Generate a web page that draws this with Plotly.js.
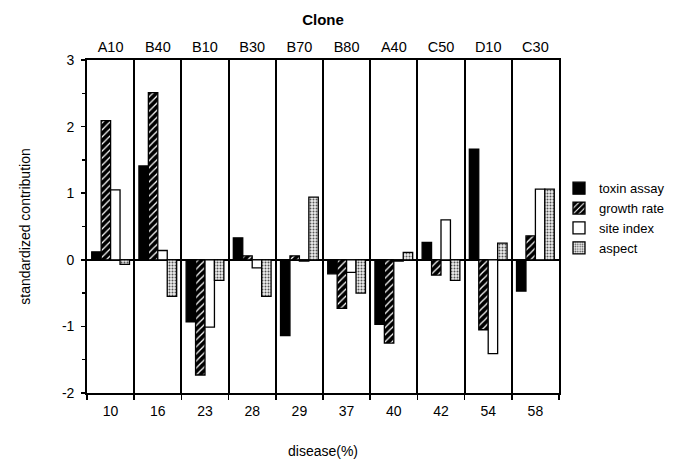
<!DOCTYPE html>
<html>
<head>
<meta charset="utf-8">
<script src="https://cdn.plot.ly/plotly-3.0.1.min.js"></script>
<style>html,body{margin:0;padding:0;background:#fff;}#chart{width:678px;height:459px;}</style>
</head>
<body>
<div id="chart"></div>
<script>
const disease = ["10", "16", "23", "28", "29", "37", "40", "42", "54", "58"];
const clones = ["A10", "B40", "B10", "B30", "B70", "B80", "A40", "C50", "D10", "C30"];
const toxinAssay = [0.12, 1.41, -0.93, 0.33, -1.14, -0.21, -0.97, 0.26, 1.66, -0.47];
const growthRate = [2.09, 2.51, -1.73, 0.06, 0.06, -0.73, -1.25, -0.23, -1.05, 0.36];
const siteIndex = [1.05, 0.14, -1.01, -0.12, -0.02, -0.19, -0.02, 0.60, -1.41, 1.06];
const aspect = [-0.07, -0.55, -0.31, -0.55, 0.94, -0.50, 0.11, -0.31, 0.25, 1.06];
const yTickVals = [-2, -1, 0, 1, 2, 3];
const yTickText = ["-2", "-1", "0", "1", "2", "3"];

const font = "Liberation Sans, Arial, sans-serif";
const outline = {color: "black", width: 1.3};

const traces = [
  {type: "bar", name: "toxin assay", x: disease, y: toxinAssay,
   marker: {color: "black", line: outline}},
  {type: "bar", name: "growth rate", x: disease, y: growthRate,
   marker: {color: "black", line: outline,
            pattern: {shape: "/", fgcolor: "white", bgcolor: "black", size: 5, solidity: 0.25}}},
  {type: "bar", name: "site index", x: disease, y: siteIndex,
   marker: {color: "white", line: outline}},
  {type: "bar", name: "aspect", x: disease, y: aspect,
   marker: {color: "white", line: outline,
            pattern: {shape: ".", fgcolor: "#555", bgcolor: "#eee", size: 3, solidity: 0.35}}},
  {type: "scatter", mode: "markers", x: clones, y: clones.map(() => 0), xaxis: "x2",
   marker: {opacity: 0}, showlegend: false, hoverinfo: "skip"}
];

const layout = {
  width: 678, height: 459,
  margin: {l: 87, r: 119, t: 60, b: 66, autoexpand: false},
  paper_bgcolor: "white", plot_bgcolor: "white",
  font: {family: font, color: "black", size: 14},
  barmode: "group", bargap: 0.2, bargroupgap: 0,
  showlegend: true,
  legend: {x: 1.0, xanchor: "left", y: 0.66, yanchor: "top",
           font: {family: font, size: 13}, bgcolor: "rgba(0,0,0,0)",
           itemwidth: 30, tracegroupgap: 0},
  title: {text: "<b>Clone</b>", x: 0.5, xref: "paper", xanchor: "center",
          y: 1 - 20 / 459, yref: "container", yanchor: "middle",
          font: {family: font, size: 15}},
  xaxis: {type: "category", categoryarray: disease, categoryorder: "array",
          range: [-0.5, 9.5], tickson: "boundaries",
          ticks: "outside", ticklen: 5, tickwidth: 1.6, tickcolor: "black",
          showgrid: true, gridcolor: "black", gridwidth: 2,
          showline: true, linecolor: "black", linewidth: 1.8, mirror: false,
          tickfont: {family: font, size: 14}, ticklabelstandoff: 4,
          title: {text: "disease(%)", standoff: 34, font: {family: font, size: 14}},
          automargin: false, zeroline: false, fixedrange: true},
  xaxis2: {type: "category", categoryarray: clones, categoryorder: "array",
           overlaying: "x", side: "top", range: [-0.5, 9.5],
           ticks: "", showgrid: false, showline: true, linecolor: "black", linewidth: 1.8,
           tickfont: {family: font, size: 14.5}, automargin: false, zeroline: false},
  yaxis: {range: [-2, 3], tickmode: "array", tickvals: yTickVals, ticktext: yTickText,
          ticks: "outside", ticklen: 4, tickwidth: 1.5, tickcolor: "black",
          minor: {dtick: 0.5, tick0: 0, ticks: "outside", ticklen: 3, tickcolor: "black", tickwidth: 1.3},
          showgrid: false, showline: true, linecolor: "black", linewidth: 1.8, mirror: true,
          zeroline: true, zerolinecolor: "black", zerolinewidth: 1.6,
          tickfont: {family: font, size: 14}, ticklabelstandoff: 4,
          title: {text: "standardized contribution", standoff: 28, font: {family: font, size: 14}},
          automargin: false, fixedrange: true}
};

Plotly.newPlot("chart", traces, layout, {displayModeBar: false, staticPlot: true});
</script>
</body>
</html>
